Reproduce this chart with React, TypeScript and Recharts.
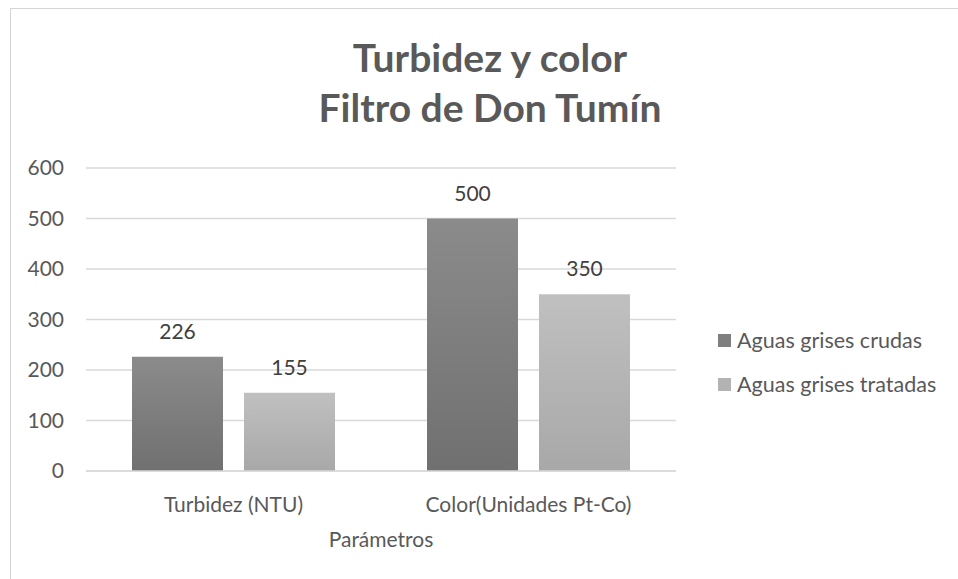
import React from "react";
import { BarChart, Bar, XAxis, YAxis, CartesianGrid, Legend, LabelList } from "recharts";

const categories = ["Turbidez (NTU)", "Color(Unidades Pt-Co)"];
const crudas = [226, 500];
const tratadas = [155, 350];
const yTicks = [0, 100, 200, 300, 400, 500, 600];

const data = categories.map((name, i) => ({ name, crudas: crudas[i], tratadas: tratadas[i] }));

const FONT = "Lato, 'Open Sans', sans-serif";
const TEXT = "#595959";

const legendItems = [
  { label: "Aguas grises crudas", color: "#7f7f7f" },
  { label: "Aguas grises tratadas", color: "#b3b3b3" },
];

const renderLegend = () => (
  <div style={{ fontFamily: FONT, fontSize: 21.5, color: TEXT }}>
    {legendItems.map((it) => (
      <div key={it.label} style={{ display: "flex", alignItems: "center", height: 44 }}>
        <span style={{ width: 13, height: 13, background: it.color, marginRight: 6, display: "inline-block" }} />
        <span>{it.label}</span>
      </div>
    ))}
  </div>
);

const App: React.FC = () => {
  return (
    <div style={{ position: "fixed", left: 0, top: 0, width: 958, height: 579, overflow: "hidden", background: "#fff" }}>
      <div style={{ position: "absolute", left: 10, top: 8, width: 1000, height: 620, border: "1px solid #d4d4d4" }} />
      <div
        style={{
          position: "absolute",
          left: 290,
          width: 400,
          top: 32,
          textAlign: "center",
          fontFamily: FONT,
          fontWeight: 700,
          fontSize: 39,
          lineHeight: "50px",
          color: TEXT,
        }}
      >
        <div>Turbidez y color</div>
        <div>Filtro de Don Tumín</div>
      </div>
      <div style={{ position: "absolute", left: 0, top: 0 }}>
        <BarChart
          width={958}
          height={579}
          data={data}
          margin={{ top: 168, right: 42, bottom: 28, left: 0 }}
          barGap={21}
          barSize={91}
        >
          <defs>
            <linearGradient id="gCrudas" x1="0" y1="0" x2="0" y2="1">
              <stop offset="0%" stopColor="#8b8b8b" />
              <stop offset="100%" stopColor="#707070" />
            </linearGradient>
            <linearGradient id="gTratadas" x1="0" y1="0" x2="0" y2="1">
              <stop offset="0%" stopColor="#c0c0c0" />
              <stop offset="100%" stopColor="#a8a8a8" />
            </linearGradient>
          </defs>
          <CartesianGrid vertical={false} stroke="#d9d9d9" strokeWidth={1.5} />
          <XAxis
            dataKey="name"
            height={80}
            interval={0}
            axisLine={{ stroke: "#d9d9d9", strokeWidth: 1.5 }}
            tickLine={false}
            tickMargin={20}
            tick={{ fontSize: 21, fill: TEXT, fontFamily: FONT }}
            label={{ value: "Parámetros", position: "insideBottom", offset: 4, style: { fontSize: 21, fill: TEXT, fontFamily: FONT } }}
          />
          <YAxis
            width={86}
            domain={[0, 600]}
            ticks={yTicks}
            axisLine={false}
            tickLine={false}
            tickMargin={16}
            tick={{ fontSize: 21, fill: TEXT, fontFamily: FONT }}
          />
          <Legend
            layout="vertical"
            align="right"
            verticalAlign="top"
            content={renderLegend}
            wrapperStyle={{ left: 718, top: 318, width: 240 }}
          />
          <Bar dataKey="crudas" name="Aguas grises crudas" fill="url(#gCrudas)" isAnimationActive={false}>
            <LabelList dataKey="crudas" position="top" offset={18} style={{ fontSize: 21, fill: "#404040", fontFamily: FONT }} />
          </Bar>
          <Bar dataKey="tratadas" name="Aguas grises tratadas" fill="url(#gTratadas)" isAnimationActive={false}>
            <LabelList dataKey="tratadas" position="top" offset={18} style={{ fontSize: 21, fill: "#404040", fontFamily: FONT }} />
          </Bar>
        </BarChart>
      </div>
    </div>
  );
};

export default App;
